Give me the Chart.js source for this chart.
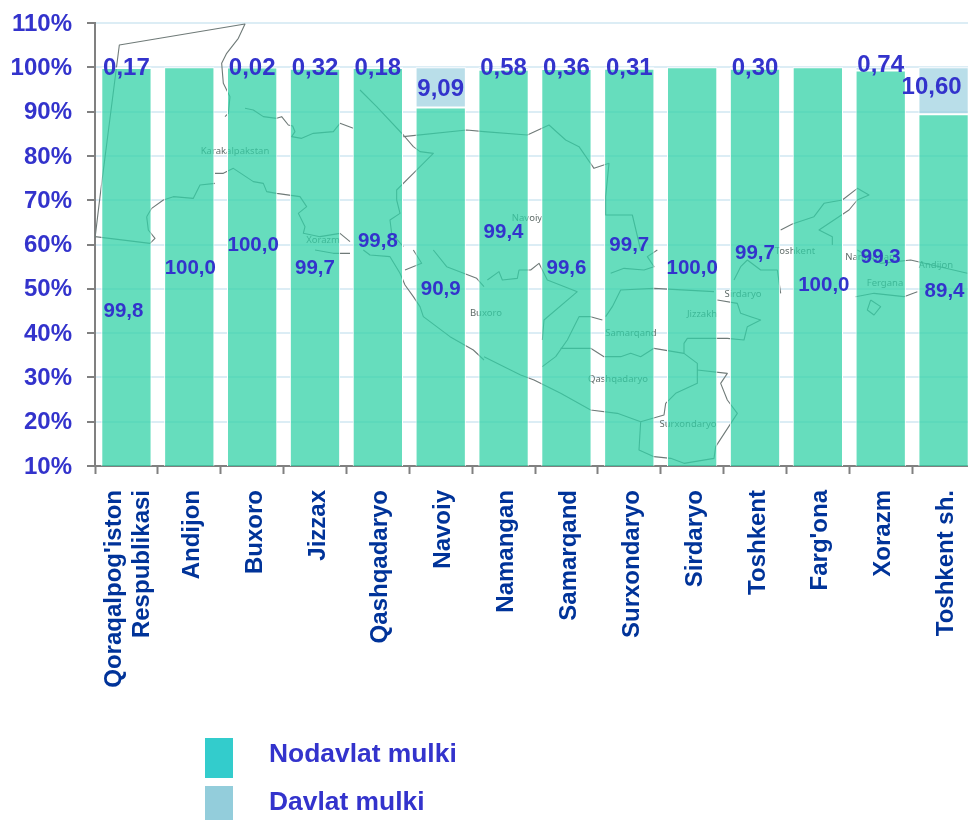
<!DOCTYPE html>
<html><head><meta charset="utf-8">
<style>html,body{margin:0;padding:0;background:#fff;overflow:hidden}canvas{display:block}</style>
<script src="https://cdn.jsdelivr.net/npm/chart.js@4/dist/chart.umd.js"></script>
</head><body><canvas id="c" width="975" height="820"></canvas>
<script>
const categories = [["Qoraqalpog'iston","Respublikasi"],"Andijon","Buxoro","Jizzax","Qashqadaryo","Navoiy","Namangan","Samarqand","Surxondaryo","Sirdaryo","Toshkent","Farg'ona","Xorazm","Toshkent sh."];
const nodavlat = [99.83,100,99.98,99.68,99.82,90.91,99.42,99.64,99.69,100,99.70,100,99.26,89.40];
const davlat = [0.17,0,0.02,0.32,0.18,9.09,0.58,0.36,0.31,0,0.30,0,0.74,10.60];
const seriesNames = ["Nodavlat mulki","Davlat mulki"];
const FONT = '"Liberation Sans", Arial, sans-serif';
const INK = '#3333CC';

// Axis level at which each hand-placed value label sits in the reference
const nodavlatLabelLevel = [45,54.7,59.9,54.7,60.6,49.8,62.8,54.7,59.7,54.7,58.1,50.7,57.2,49.5];
const nodavlatLabelNudge = [-3,1,1,0,0,0,0,0,0,0,0,6,0,1];
const davlatLabelLevel = [99.7,99.7,99.7,99.7,99.7,95,99.7,99.7,99.7,99.7,99.7,99.7,100.4,95.5];
const davlatLabelNudge = [0,0,0,0,0,0,0,0,0,0,0,0,0,-12];

// Decorative background map: zoom-crop traces (base offset x, y, then x,y pairs at 3x)
const mapLines = [
 [0,0,285,715,300,590,358,135,735,72,715,115,680,160,665,190,670,250,690,290,685,340,675,350],
 [0,0,735,325,760,330,790,350,830,355,845,350,865,375,878,378,885,395,875,410,905,415,940,400,1000,395,1020,370,1060,385],
 [0,0,1080,270,1130,320,1210,405,1240,440,1260,455,1300,460,1240,520,1190,570,1190,600,1200,640,1170,660,1175,700,1210,740],
 [0,0,1210,410,1400,390,1452,395],
 [484,0,0,395,130,405,195,375,245,420,285,440,330,505,375,490,365,590,365,645,445,645,470,750],
 [0,0,645,520,670,520,700,505,760,545,790,550,800,575,830,580,900,590,920,620,895,640,915,680,910,700,960,710,1020,700,1050,725],
 [0,0,440,650,455,625,490,600,520,590,580,595,600,555,645,550],
 [0,0,285,710,450,730,465,715,445,690,440,650],
 [0,250,945,0,1000,10,1050,10],
 [0,250,1090,0,1110,15,1170,20,1200,70,1215,105,1240,140,1260,170,1270,200,1350,260,1420,300,1452,330],
 [0,250,1240,0,1265,40,1215,60],
 [0,250,1300,0,1340,50,1430,85,1452,110],
 [484,250,0,320,60,350,110,375,150,390,230,430,320,480,400,490,470,515,465,600,510,620,560,625,600,640,690,625,695,590,760,490,730,450,710,400,730,370,640,360],
 [484,250,470,515,540,495,545,460,575,430,640,400,640,360,640,340,600,310,600,280,610,265,730,265,780,270,790,230,830,210,800,200,770,190,760,160,700,150],
 [484,250,175,350,215,320,250,270,285,200,320,200,355,210],
 [484,250,230,295,320,295,360,320,410,320,440,310,470,320,510,295,600,310],
 [484,250,175,270,180,210,280,125],
 [484,250,365,200,385,170,410,120,510,115,690,125],
 [484,250,380,70,420,55,480,60,510,50,490,20,520,0],
 [484,250,10,90,45,65,55,90,100,85,105,60,140,60,165,40,190,90,280,125],
 [484,250,750,90,770,50,790,30,830,60,880,60,890,130],
 [484,250,1115,140,1170,130,1260,140,1300,125],
 [484,250,1160,150,1190,170,1170,195,1150,180,1160,150],
 [484,0,890,690,925,672,990,650,1020,610,1075,600,1120,565,1155,585,1120,600,1095,630,1005,690,1045,710,1045,735],
 [484,250,1120,0,1190,40,1280,30,1450,70]
];
const mapNames = [["Karakalpakstan",235,151],["Xorazm",323,240],["Navoiy",527,218],["Buxoro",486,313],["Samarqand",631,333],["Qashqadaryo",618,379],["Surxondaryo",688,424],["Jizzakh",702,314],["Sirdaryo",743,294],["Toshkent",795,251],["Namangan",870,257],["Fergana",885,283],["Andijon",936,265]];

// Centre the two-line first category label on its bar; settle y tick text by a pixel
const tickLabelFit = {
  id:'tickLabelFit',
  beforeDraw(chart){
    const s = chart.scales.x, items = s.getLabelItems();
    if (items[0] && items[0] !== s.__shifted) {
      items[0].options.translation[0] -= 15; s.__shifted = items[0];
      chart.scales.y.getLabelItems().forEach(it => { it.options.translation[1] += 1; });
    }
  }
};

const mapPlugin = {
  id:'mapBackdrop',
  beforeDatasetsDraw(chart){
    const c = chart.ctx; c.save();
    c.beginPath(); c.rect(chart.chartArea.left,chart.chartArea.top,chart.chartArea.width,chart.chartArea.height); c.clip();
    c.strokeStyle='#6f7a78'; c.lineWidth=1.1; c.lineJoin='round';
    mapLines.forEach(l=>{ c.beginPath(); for(let i=2;i<l.length;i+=2){ const x=l[0]+l[i]/3,y=l[1]+l[i+1]/3; i===2?c.moveTo(x,y):c.lineTo(x,y);} c.stroke(); });
    c.font='9.5px "Noto Sans", sans-serif'; c.textAlign='center'; c.textBaseline='middle'; c.fillStyle='#5f6b68';
    mapNames.forEach(n=>c.fillText(n[0],n[1],n[2]));
    c.restore();
  }
};

const valueLabelPlugin = {
  id:'valueLabels',
  afterDatasetsDraw(chart){
    const c = chart.ctx, y = chart.scales.y, x = chart.scales.x;
    c.save(); c.fillStyle=INK; c.textAlign='center'; c.textBaseline='middle';
    c.font='bold 20.5px '+FONT;
    nodavlat.forEach((v,i)=>c.fillText(v.toFixed(1).replace('.',','),x.getPixelForValue(i)+nodavlatLabelNudge[i],y.getPixelForValue(nodavlatLabelLevel[i])));
    c.font='bold 24px '+FONT;
    davlat.forEach((v,i)=>{ if(v>0) c.fillText(v.toFixed(2).replace('.',','),x.getPixelForValue(i)+davlatLabelNudge[i],y.getPixelForValue(davlatLabelLevel[i])); });
    c.restore();
  }
};

const legendPlugin = {
  id:'sideLegend',
  afterDraw(chart){
    const c = chart.ctx; c.save();
    c.textAlign='left'; c.textBaseline='middle'; c.font='bold 26.4px '+FONT;
    [['#33CCCC',738,40,754.5],['#93CDDB',786,34,802.5]].forEach((r,i)=>{
      c.fillStyle=r[0]; c.fillRect(205,r[1],28,r[2]);
      c.fillStyle=INK; c.fillText(seriesNames[i],269,r[3]);
    });
    c.restore();
  }
};

new Chart(document.getElementById('c'),{
  type:'bar',
  data:{labels:categories,datasets:[
    {label:seriesNames[0],data:nodavlat,backgroundColor:'rgba(51,210,167,0.75)',borderColor:'#fff',borderWidth:1,borderSkipped:false,barPercentage:0.8,categoryPercentage:1},
    {label:seriesNames[1],data:davlat,backgroundColor:'rgba(147,205,221,0.65)',borderColor:'#fff',borderWidth:1,borderSkipped:false,barPercentage:0.8,categoryPercentage:1}
  ]},
  plugins:[tickLabelFit,mapPlugin,valueLabelPlugin,legendPlugin],
  options:{
    responsive:false,animation:false,
    layout:{padding:{top:23,left:0,right:0,bottom:0}},
    plugins:{legend:{display:false},tooltip:{enabled:false},title:{display:false}},
    scales:{
      x:{stacked:true,
        afterFit(s){s.height=354;s.paddingLeft=0;s.paddingRight=0;},
        grid:{color:'rgba(0,0,0,0)',tickColor:'#808080',tickLength:8,tickWidth:2,drawOnChartArea:false},
        border:{color:'#808080',width:2},
        ticks:{autoSkip:false,maxRotation:90,minRotation:90,labelOffset:3,color:'#003399',padding:16,font:{family:FONT,size:24,weight:'bold',lineHeight:1.17}}
      },
      y:{stacked:true,min:10,max:110,
        afterFit(s){s.width=95;s.paddingTop=0;s.paddingBottom=0;},
        grid:{color:'#dcedf5',lineWidth:2,tickColor:'#808080',tickLength:8,tickWidth:2},
        border:{color:'#808080',width:2},
        ticks:{stepSize:10,color:INK,padding:15,font:{family:FONT,size:24,weight:'bold'},callback:v=>v+'%'}
      }
    }
  }
});
</script></body></html>
